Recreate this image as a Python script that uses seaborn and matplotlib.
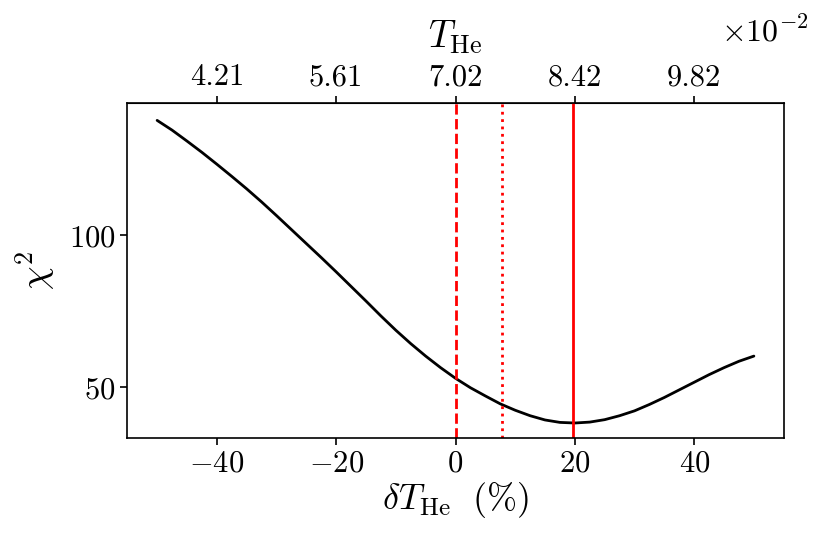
import matplotlib
matplotlib.use('Agg')
import matplotlib.pyplot as plt
import seaborn as sns
import pandas as pd

# chi^2 scan over the helium temperature offset
delta_T = [-50, -47.5, -45, -42.5, -40, -37.5, -35, -32.5, -30, -27.5, -25,
           -22.5, -20, -17.5, -15, -12.5, -10, -7.5, -5, -2.5, 0,
           2.5, 5, 7.5, 10, 12.5, 15, 17.5, 20, 22.5, 25,
           27.5, 30, 32.5, 35, 37.5, 40, 42.5, 45, 47.5, 50]
chi2 = [137.8, 134.6, 131.0, 127.3, 123.4, 119.4, 115.3, 111.0, 106.5, 101.9, 97.3,
        92.7, 88.0, 83.2, 78.4, 73.5, 68.8, 64.4, 60.3, 56.5, 53.0,
        49.9, 47.2, 44.6, 42.5, 40.7, 39.3, 38.5, 38.3, 38.6, 39.4,
        40.7, 42.3, 44.4, 46.7, 49.2, 51.7, 54.2, 56.5, 58.6, 60.3]

# reference markers (percent offsets)
fiducial = 0.0
dotted_line = 7.8
best_fit = 19.7

# top axis: T_He in units of 1e-2
T0 = 7.017
top_ticks = [4.21, 5.61, 7.02, 8.42, 9.82]

df = pd.DataFrame({'delta': delta_T, 'chi2': chi2})

sns.set_style('ticks')
plt.rcParams['font.family'] = 'serif'
plt.rcParams['font.serif'] = ['cmr10']
plt.rcParams['mathtext.fontset'] = 'cm'
plt.rcParams['axes.formatter.use_mathtext'] = True
plt.rcParams['axes.unicode_minus'] = True
for key in ['text.color', 'axes.labelcolor', 'xtick.color', 'ytick.color', 'axes.edgecolor']:
    plt.rcParams[key] = 'black'

fig = plt.figure(figsize=(8.3, 5.54), dpi=100)
ax = fig.add_axes([0.153, 0.209, 0.7916, 0.605])

sns.lineplot(data=df, x='delta', y='chi2', color='black', linewidth=2, ax=ax)
ax.axvline(fiducial, color='red', linestyle='--', linewidth=2)
ax.axvline(dotted_line, color='red', linestyle=':', linewidth=2)
ax.axvline(best_fit, color='red', linestyle='-', linewidth=2)

ax.set_xlim(-55.05, 55.05)
ax.set_ylim(33.3, 143.5)
ax.set_xticks([-40, -20, 0, 20, 40])
ax.set_yticks([50, 100])
ax.tick_params(labelsize=22, width=1.2, length=5)
for s in ax.spines.values():
    s.set_linewidth(1.2)
ax.set_xlabel(r'$\delta T_{\rm He}\ \ (\%)$', fontsize=26, labelpad=2)
ax.set_ylabel(r'$\chi^2$', fontsize=27, labelpad=8)

top = ax.secondary_xaxis('top', functions=(lambda d: T0 * (1 + d / 100.0),
                                            lambda t: (t / T0 - 1) * 100.0))
top.set_xticks(top_ticks)
top.set_xticklabels([f'{t:.2f}' for t in top_ticks])
top.tick_params(labelsize=22, width=1.2, length=5)
top.set_xlabel(r'$T_{\rm He}$', fontsize=27, labelpad=12)
fig.text(0.974, 0.915, r'$\times10^{-2}$', fontsize=23, ha='right', va='bottom')

fig.savefig('out.png', dpi=100)
